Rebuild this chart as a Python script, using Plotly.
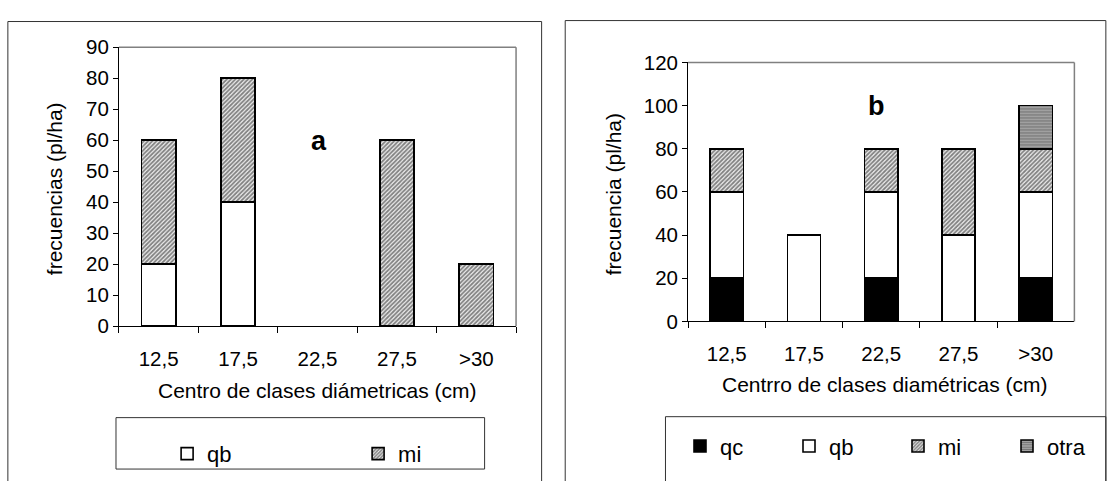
import plotly.graph_objects as go

W, H = 1116, 481

# ---------------- data ----------------
categories = ["12,5", "17,5", "22,5", "27,5", ">30"]

# panel a
a_qb = [20, 40, 0, 0, 0]
a_mi = [40, 40, 0, 60, 20]

# panel b
b_qc = [20, 0, 20, 0, 20]
b_qb = [40, 40, 40, 40, 40]
b_mi = [20, 0, 20, 40, 20]
b_otra = [0, 0, 0, 0, 20]

a_yticks = list(range(0, 91, 10))
b_yticks = list(range(0, 121, 20))

FONT = "Liberation Sans, Arial, sans-serif"


def px(x):
    return x / W


def py(y):
    return 1 - y / H


def outline(values):
    # no outline on empty (zero-height) segments
    return dict(color="black", width=[1.6 if v else 0 for v in values])


line = dict(color="black", width=1.6)
pat_mi = dict(shape="/", size=3, solidity=0.6, fgcolor="#111111", bgcolor="#f0f0f0")
pat_otra = dict(shape="-", size=3, solidity=0.4, fgcolor="#404040", bgcolor="#a4a4a4")

fig = go.Figure()

# panel a traces
fig.add_bar(x=categories, y=a_qb, name="qb", xaxis="x", yaxis="y",
            marker=dict(color="white", line=outline(a_qb)), legend="legend")
fig.add_bar(x=categories, y=a_mi, name="mi", xaxis="x", yaxis="y",
            marker=dict(color="white", line=outline(a_mi), pattern=pat_mi), legend="legend")

# panel b traces
fig.add_bar(x=categories, y=b_qc, name="qc", xaxis="x2", yaxis="y2",
            marker=dict(color="black", line=line), legend="legend2")
fig.add_bar(x=categories, y=b_qb, name="qb", xaxis="x2", yaxis="y2",
            marker=dict(color="white", line=line), legend="legend2")
fig.add_bar(x=categories, y=b_mi, name="mi", xaxis="x2", yaxis="y2",
            marker=dict(color="white", line=line, pattern=pat_mi), legend="legend2")
fig.add_bar(x=categories, y=b_otra, name="otra", xaxis="x2", yaxis="y2",
            marker=dict(color="#a4a4a4", line=line, pattern=pat_otra),
            legend="legend2")

tickfont = dict(family=FONT, size=20.5, color="black")

xcommon = dict(type="category", showline=True, linecolor="black", linewidth=1,
               ticks="outside", tickson="boundaries", ticklen=6, tickcolor="black",
               tickfont=tickfont, showgrid=False, zeroline=False, fixedrange=True,
               ticklabelstandoff=14)
ycommon = dict(showline=True, linecolor="black", linewidth=1, ticks="outside",
               ticklen=5, tickcolor="black", tickfont=tickfont, showgrid=False,
               zeroline=False, fixedrange=True)

legfont = dict(family=FONT, size=22, color="black")

fig.update_layout(
    width=W, height=H,
    margin=dict(l=0, r=0, t=0, b=0),
    paper_bgcolor="white", plot_bgcolor="white",
    barmode="stack", bargap=0.57,
    font=dict(family=FONT, size=20, color="black"),
    xaxis=dict(domain=[px(121), px(525)], anchor="y", **xcommon),
    yaxis=dict(domain=[py(330), py(37)], anchor="x", range=[0, 90],
               tickvals=a_yticks, **ycommon),
    xaxis2=dict(domain=[px(700), px(1093)], anchor="y2", **xcommon),
    yaxis2=dict(domain=[py(325), py(53)], anchor="x2", range=[0, 120],
                tickvals=b_yticks, **ycommon),
    legend=dict(orientation="h", x=px(170), xanchor="left", y=py(464), yanchor="middle",
                entrywidth=146, font=legfont,
                bgcolor="rgba(0,0,0,0)", borderwidth=0, traceorder="normal"),
    legend2=dict(orientation="h", x=px(692), xanchor="left", y=py(456), yanchor="middle",
                 entrywidth=64, font=legfont,
                 bgcolor="rgba(0,0,0,0)", borderwidth=0, traceorder="normal"),
    showlegend=True,
)

shapes = []
# outer panel frames
shapes.append(dict(type="rect", xref="paper", yref="paper", x0=px(8), x1=px(551),
                   y0=py(495), y1=py(10), line=dict(color="#333333", width=1)))
shapes.append(dict(type="rect", xref="paper", yref="paper", x0=px(575), x1=px(1125),
                   y0=py(495), y1=py(9), line=dict(color="#333333", width=1)))
# legend boxes
shapes.append(dict(type="rect", xref="paper", yref="paper", x0=px(118), x1=px(493),
                   y0=py(480), y1=py(426), line=dict(color="#333333", width=1)))
shapes.append(dict(type="rect", xref="paper", yref="paper", x0=px(677), x1=px(1125),
                   y0=py(495), y1=py(425), line=dict(color="#333333", width=1)))
# grey top/right plot frames
for xa, ya in (("x", "y"), ("x2", "y2")):
    shapes.append(dict(type="line", xref=f"{xa} domain", yref=f"{ya} domain",
                       x0=0, x1=1, y0=1, y1=1, line=dict(color="#808080", width=1.5)))
    shapes.append(dict(type="line", xref=f"{xa} domain", yref=f"{ya} domain",
                       x0=1, x1=1, y0=0, y1=1, line=dict(color="#808080", width=1.5)))
fig.update_layout(shapes=shapes)

ann = []
ann.append(dict(text="Centro de clases diámetricas (cm)", xref="paper", yref="paper",
                x=px(323), y=py(397), showarrow=False, xanchor="center", yanchor="middle",
                font=dict(family=FONT, size=21, color="black")))
ann.append(dict(text="Centrro de clases diamétricas (cm)", xref="paper", yref="paper",
                x=px(900), y=py(391), showarrow=False, xanchor="center", yanchor="middle",
                font=dict(family=FONT, size=21, color="black")))
ann.append(dict(text="frecuencias (pl/ha)", xref="paper", yref="paper",
                x=px(55), y=py(186), showarrow=False, textangle=-90,
                xanchor="center", yanchor="middle",
                font=dict(family=FONT, size=21, color="black")))
ann.append(dict(text="frecuencia (pl/ha)", xref="paper", yref="paper",
                x=px(624), y=py(191), showarrow=False, textangle=-90,
                xanchor="center", yanchor="middle",
                font=dict(family=FONT, size=21, color="black")))
ann.append(dict(text="<b>a</b>", xref="paper", yref="paper", x=px(325), y=py(136),
                showarrow=False, xanchor="center", yanchor="middle",
                font=dict(family=FONT, size=27, color="black")))
ann.append(dict(text="<b>b</b>", xref="paper", yref="paper", x=px(892), y=py(99),
                showarrow=False, xanchor="center", yanchor="middle",
                font=dict(family=FONT, size=27, color="black")))
fig.update_layout(annotations=ann)

fig.write_html("out.html")
